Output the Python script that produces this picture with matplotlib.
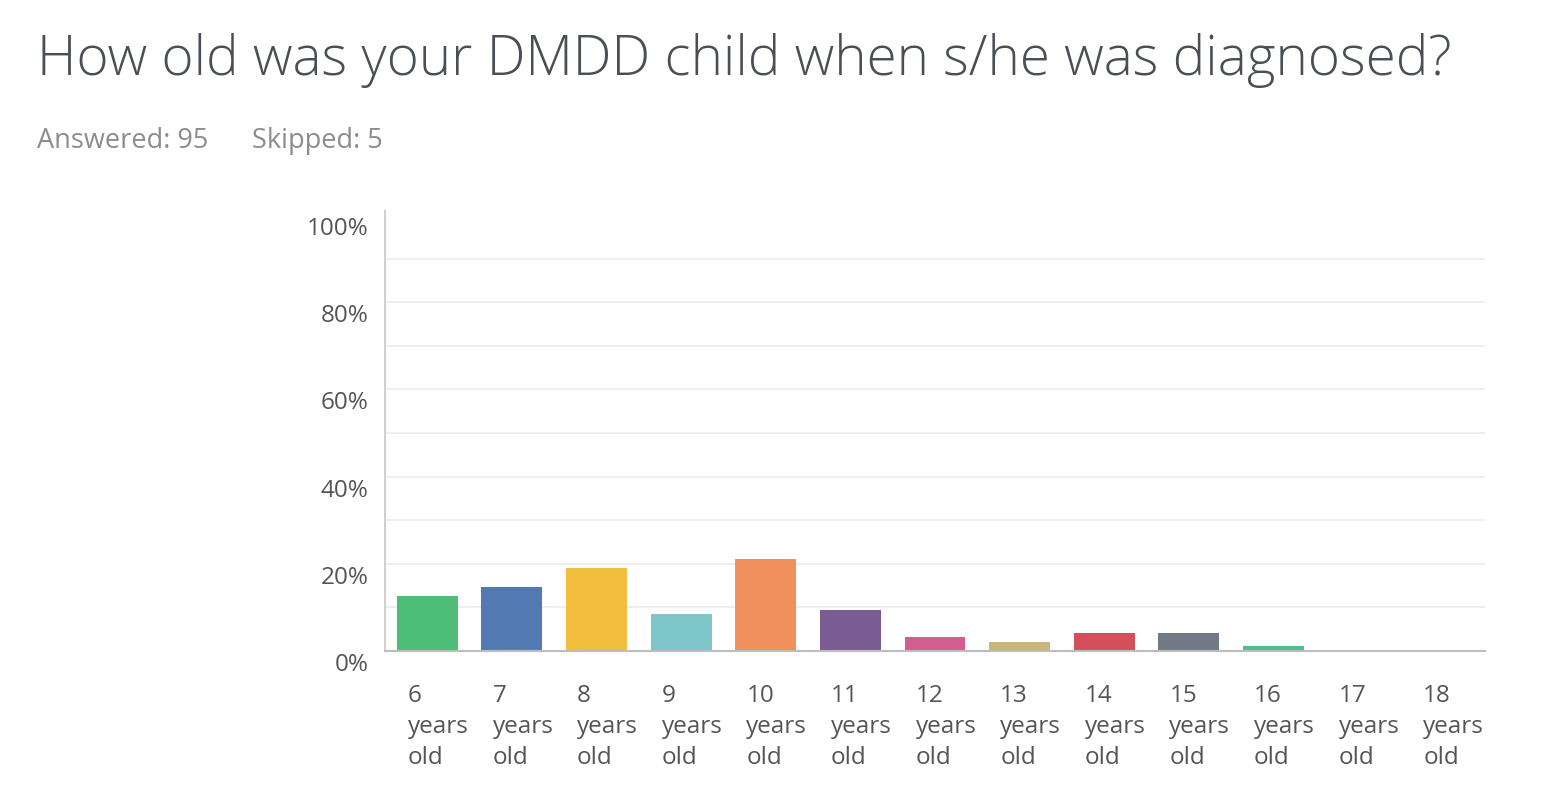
import matplotlib
matplotlib.use("Agg")
import matplotlib.pyplot as plt
import matplotlib.transforms as mtransforms

categories = ["6\nyears\nold", "7\nyears\nold", "8\nyears\nold", "9\nyears\nold",
              "10\nyears\nold", "11\nyears\nold", "12\nyears\nold", "13\nyears\nold",
              "14\nyears\nold", "15\nyears\nold", "16\nyears\nold", "17\nyears\nold",
              "18\nyears\nold"]
values = [12.63, 14.74, 18.95, 8.42, 21.05, 9.47, 3.16, 2.11, 4.21, 4.21, 1.05, 0.0, 0.0]
colors = ["#4ebd77", "#5379b3", "#f1be3e", "#7ec6ca", "#f0915d", "#7a5c93",
          "#d45c8f", "#c9b77a", "#d34f5b", "#6f7a84", "#4fbd8c", "#999999", "#999999"]
yticks = [0, 20, 40, 60, 80, 100]
ytick_labels = ["0%", "20%", "40%", "60%", "80%", "100%"]
grid_vals = [10, 20, 30, 40, 50, 60, 70, 80, 90]
title = "How old was your DMDD child when s/he was diagnosed?"
answered = "Answered: 95"
skipped = "Skipped: 5"

fam = "Open Sans"
W, H = 1554, 812
fig = plt.figure(figsize=(W / 100, H / 100), dpi=100)
fig.patch.set_facecolor("white")

ax = fig.add_axes([385 / W, (H - 652) / H, 1100 / W, 436 / H])
ax.set_xlim(-0.5, len(categories) - 0.5)
ax.set_ylim(0, 100)

for g in grid_vals:
    ax.axhline(g, color="#ebebeb", lw=1.2, zorder=0)

x = list(range(len(categories)))
ax.bar(x, values, width=0.72, color=colors, zorder=2)

for s in ["top", "right"]:
    ax.spines[s].set_visible(False)
ax.spines["left"].set_color("#d0d0d0")
ax.spines["left"].set_linewidth(1.5)
ax.spines["bottom"].set_color("#bdbdbd")
ax.spines["bottom"].set_linewidth(1.5)
ax.spines["left"].set_bounds(0, 101)

ax.set_yticks(yticks)
ax.set_yticklabels(ytick_labels, fontsize=17.5, color="#555555", family=fam)
ax.tick_params(axis="y", length=0, pad=12)
offset = mtransforms.ScaledTranslation(0, -10 / 100, fig.dpi_scale_trans)
for lab in ax.get_yticklabels():
    lab.set_transform(lab.get_transform() + offset)

ax.set_xticks([])
trans = mtransforms.blended_transform_factory(ax.transData, ax.transAxes)
for i, c in enumerate(categories):
    ax.text(i - 0.23, -0.074, c, transform=trans, ha="left", va="top",
            fontsize=17.5, color="#555555", family=fam, linespacing=1.37)

fig.text(37 / W, 1 - 60 / H, title, fontsize=39.5, color="#4a4f55",
         family=fam, weight="light", va="center", ha="left")
fig.text(37 / W, 1 - 141 / H, answered, fontsize=19.5, color="#8c8c8c",
         family=fam, va="center", ha="left")
fig.text(252 / W, 1 - 141 / H, skipped, fontsize=19.5, color="#8c8c8c",
         family=fam, va="center", ha="left")

fig.savefig("out.png", dpi=100, facecolor="white")
